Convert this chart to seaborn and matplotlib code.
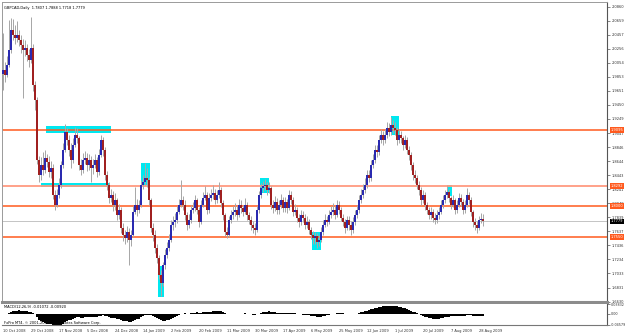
import numpy as np
import pandas as pd
import matplotlib
matplotlib.use("Agg")
import matplotlib.pyplot as plt
import seaborn as sns
from matplotlib.patches import Rectangle

# ---------------- data (GBPCAD daily) ----------------
first_open = 1.9900
closes = [
    1.9956, 1.9884, 2.0027, 2.0243, 2.0530, 2.0458, 2.0415, 2.0458, 2.0386, 2.0314,
    2.0243, 2.0271, 2.0171, 2.0099, 2.0271, 1.9740, 1.9525, 1.8664, 1.8449, 1.8593,
    1.8521, 1.8693, 1.8636, 1.8492, 1.8550, 1.8162, 1.8019, 1.8162, 1.8306, 1.8593,
    1.8808, 1.9066, 1.8951, 1.8808, 1.8664, 1.8880, 1.9023, 1.8980, 1.8593, 1.8521,
    1.8664, 1.8693, 1.8593, 1.8664, 1.8550, 1.8593, 1.8664, 1.8492, 1.8736, 1.8951,
    1.8808, 1.8449, 1.8306, 1.8119, 1.8162, 1.8019, 1.8091, 1.7875, 1.7947, 1.7689,
    1.7588, 1.7545, 1.7631, 1.7517, 1.7588, 1.7918, 1.8019, 1.7947, 1.8019, 1.8306,
    1.8349, 1.8406, 1.8378, 1.8091, 1.7689, 1.7588, 1.7402, 1.7258, 1.7015, 1.6900,
    1.7158, 1.7302, 1.7402, 1.7517, 1.7732, 1.7775, 1.7804, 1.7918, 1.8019, 1.8091,
    1.8019, 1.7875, 1.7732, 1.7804, 1.7947, 1.7976, 1.8091, 1.7947, 1.7775, 1.8019,
    1.8119, 1.8162, 1.7947, 1.8119, 1.8162, 1.8191, 1.8091, 1.8162, 1.8234, 1.8048,
    1.7875, 1.7631, 1.7588, 1.7804, 1.7875, 1.7918, 1.7947, 1.7875, 1.8019, 1.7976,
    1.7918, 1.8019, 1.7875, 1.7804, 1.7732, 1.7689, 1.7660, 1.7947, 1.8162, 1.8263,
    1.8291, 1.8306, 1.8234, 1.8263, 1.8019, 1.7976, 1.8062, 1.7947, 1.8019, 1.8091,
    1.7976, 1.8062, 1.7976, 1.8162, 1.8091, 1.7918, 1.7947, 1.7832, 1.7775, 1.7875,
    1.7832, 1.7732, 1.7775, 1.7660, 1.7588, 1.7545, 1.7574, 1.7488, 1.7517, 1.7631,
    1.7732, 1.7804, 1.7775, 1.7875, 1.7918, 1.7947, 1.7875, 1.8019, 1.7947, 1.7832,
    1.7775, 1.7689, 1.7804, 1.7732, 1.7660, 1.7775, 1.7875, 1.7947, 1.8091, 1.8162,
    1.8234, 1.8306, 1.8449, 1.8406, 1.8593, 1.8664, 1.8808, 1.8779, 1.8951, 1.9023,
    1.8951, 1.9023, 1.9124, 1.9066, 1.9167, 1.9124, 1.9095, 1.8951, 1.9023, 1.8980,
    1.8880, 1.8951, 1.8808, 1.8736, 1.8593, 1.8449, 1.8406, 1.8306, 1.8234, 1.8091,
    1.8162, 1.8019, 1.7947, 1.7875, 1.7918, 1.7832, 1.7804, 1.7875, 1.7918, 1.8019,
    1.8091, 1.8162, 1.8205, 1.8119, 1.8019, 1.8091, 1.7947, 1.8019, 1.8119, 1.8062,
    1.7947, 1.8019, 1.8162, 1.8091, 1.7918, 1.7775, 1.7732, 1.7689, 1.7804, 1.7807,
    1.7779,
]
highs = [
    2.0480, 2.0060, 2.0150, 2.0670, 2.0700, 2.0690, 2.0600, 2.0650, 2.0520, 2.0450,
    2.0400, 2.0380, 2.0330, 2.0250, 2.0716, 2.0320, 1.9800, 1.9560, 1.8720, 1.8700,
    1.8780, 1.8800, 1.8750, 1.8720, 1.8650, 1.8600, 1.8230, 1.8250, 1.8400, 1.8650,
    1.8900, 1.9170, 1.9120, 1.9020, 1.8900, 1.8980, 1.9140, 1.9120, 1.9010, 1.8680,
    1.8760, 1.8790, 1.8760, 1.8740, 1.8720, 1.8680, 1.8750, 1.8700, 1.8820, 1.9020,
    1.8990, 1.8850, 1.8500, 1.8350, 1.8250, 1.8220, 1.8180, 1.8120, 1.8030, 1.7980,
    1.7750, 1.7650, 1.7720, 1.7680, 1.7650, 1.8000, 1.8280, 1.8100, 1.8090, 1.8380,
    1.8450, 1.8620, 1.8550, 1.8420, 1.8120, 1.7750, 1.7650, 1.7450, 1.7300, 1.7080,
    1.7200, 1.7380, 1.7480, 1.7600, 1.7800, 1.7860, 1.7900, 1.8000, 1.8100, 1.8378,
    1.8150, 1.8080, 1.7920, 1.7880, 1.8020, 1.8060, 1.8160, 1.8120, 1.7980, 1.8080,
    1.8200, 1.8290, 1.8200, 1.8180, 1.8250, 1.8300, 1.8240, 1.8230, 1.8350, 1.8280,
    1.8090, 1.7900, 1.7700, 1.7860, 1.7950, 1.8000, 1.8050, 1.8000, 1.8100, 1.8080,
    1.8020, 1.8110, 1.8060, 1.7920, 1.7850, 1.7790, 1.7750, 1.8000, 1.8220, 1.8330,
    1.8360, 1.8392, 1.8350, 1.8340, 1.8290, 1.8080, 1.8140, 1.8110, 1.8090, 1.8170,
    1.8130, 1.8130, 1.8100, 1.8230, 1.8210, 1.8130, 1.8030, 1.7990, 1.7890, 1.7940,
    1.7930, 1.7880, 1.7850, 1.7820, 1.7700, 1.7640, 1.7630, 1.7610, 1.7590, 1.7700,
    1.7800, 1.7880, 1.7860, 1.7940, 1.8000, 1.8050, 1.8000, 1.8090, 1.8070, 1.7990,
    1.7880, 1.7820, 1.7860, 1.7850, 1.7780, 1.7840, 1.7940, 1.8020, 1.8160, 1.8240,
    1.8310, 1.8400, 1.8520, 1.8510, 1.8660, 1.8750, 1.8880, 1.8870, 1.9020, 1.9100,
    1.9080, 1.9110, 1.9200, 1.9190, 1.9281, 1.9240, 1.9200, 1.9140, 1.9100, 1.9080,
    1.9010, 1.9020, 1.8990, 1.8860, 1.8780, 1.8630, 1.8520, 1.8450, 1.8360, 1.8270,
    1.8230, 1.8200, 1.8060, 1.7990, 1.7990, 1.7960, 1.7900, 1.7940, 1.7990, 1.8080,
    1.8160, 1.8230, 1.8290, 1.8250, 1.8150, 1.8160, 1.8120, 1.8090, 1.8190, 1.8170,
    1.8100, 1.8080, 1.8260, 1.8200, 1.8130, 1.7950, 1.7830, 1.7780, 1.7860, 1.7900,
    1.7888,
]
lows = [
    1.9670, 1.9780, 1.9850, 1.9990, 2.0200, 2.0380, 2.0330, 2.0350, 2.0300, 2.0200,
    1.9550, 2.0150, 2.0080, 2.0000, 2.0050, 1.9650, 1.9380, 1.8600, 1.8350, 1.8380,
    1.8450, 1.8480, 1.8560, 1.8420, 1.8400, 1.8100, 1.7950, 1.7980, 1.8120, 1.8260,
    1.8550, 1.8780, 1.8880, 1.8720, 1.8550, 1.8620, 1.8850, 1.8900, 1.8520, 1.8440,
    1.8470, 1.8600, 1.8500, 1.8520, 1.8350, 1.8460, 1.8540, 1.8420, 1.8450, 1.8700,
    1.8720, 1.8380, 1.8230, 1.8050, 1.8060, 1.7930, 1.7950, 1.7800, 1.7820, 1.7620,
    1.7500, 1.7460, 1.7480, 1.7160, 1.7420, 1.7550, 1.7880, 1.7850, 1.7900, 1.7980,
    1.8250, 1.8300, 1.8280, 1.8020, 1.7630, 1.7500, 1.7330, 1.7180, 1.6950, 1.6713,
    1.6850, 1.7100, 1.7250, 1.7350, 1.7480, 1.7650, 1.7700, 1.7750, 1.7880, 1.7980,
    1.7950, 1.7800, 1.7650, 1.7680, 1.7760, 1.7900, 1.7930, 1.7880, 1.7700, 1.7740,
    1.7980, 1.8080, 1.7880, 1.7900, 1.8070, 1.8100, 1.8030, 1.8040, 1.8120, 1.7990,
    1.7800, 1.7570, 1.7545, 1.7560, 1.7760, 1.7820, 1.7850, 1.7800, 1.7840, 1.7900,
    1.7850, 1.7880, 1.7800, 1.7740, 1.7660, 1.7620, 1.7590, 1.7630, 1.7900, 1.8120,
    1.8200, 1.8230, 1.8160, 1.8180, 1.7960, 1.7900, 1.7930, 1.7880, 1.7890, 1.7970,
    1.7910, 1.7920, 1.7900, 1.7940, 1.8030, 1.7850, 1.7870, 1.7770, 1.7700, 1.7730,
    1.7770, 1.7670, 1.7680, 1.7600, 1.7520, 1.7450, 1.7460, 1.7402, 1.7430, 1.7480,
    1.7590, 1.7700, 1.7710, 1.7740, 1.7830, 1.7870, 1.7810, 1.7840, 1.7880, 1.7780,
    1.7710, 1.7620, 1.7650, 1.7660, 1.7590, 1.7620, 1.7730, 1.7830, 1.7900, 1.8040,
    1.8110, 1.8180, 1.8260, 1.8340, 1.8360, 1.8540, 1.8620, 1.8710, 1.8730, 1.8900,
    1.8880, 1.8900, 1.8980, 1.9000, 1.9020, 1.9050, 1.9020, 1.8880, 1.8900, 1.8910,
    1.8810, 1.8830, 1.8740, 1.8660, 1.8520, 1.8380, 1.8330, 1.8240, 1.8160, 1.8020,
    1.8040, 1.7950, 1.7880, 1.7810, 1.7820, 1.7770, 1.7740, 1.7760, 1.7820, 1.7880,
    1.7970, 1.8040, 1.8120, 1.8060, 1.7960, 1.7980, 1.7890, 1.7900, 1.7980, 1.8000,
    1.7890, 1.7900, 1.7980, 1.8030, 1.7860, 1.7700, 1.7660, 1.7620, 1.7650, 1.7760,
    1.7718,
]
date_labels = ["10 Oct 2008", "29 Oct 2008", "17 Nov 2008", "5 Dec 2008", "24 Dec 2008",
               "14 Jan 2009", "2 Feb 2009", "20 Feb 2009", "11 Mar 2009", "30 Mar 2009",
               "17 Apr 2009", "6 May 2009", "25 May 2009", "12 Jun 2009", "1 Jul 2009",
               "20 Jul 2009", "7 Aug 2009", "28 Aug 2009"]
bars_per_label = 14
price_tick_labels = ["2.0860", "2.0659", "2.0457", "2.0256", "2.0054", "1.9853", "1.9651",
                     "1.9450", "1.9249", "1.9047", "1.8846", "1.8644", "1.8443", "1.8241",
                     "1.8040", "1.7839", "1.7637", "1.7436", "1.7234", "1.7033", "1.6831",
                     "1.6630"]
levels = [1.9095, 1.8292, 1.8000, 1.7550]
level_labels = ["1.9095", "1.8292", "1.8000", "1.7550"]
last_price = 1.7779
# highlighted zones: (first bar, last bar, low price, high price)
zone_bar0 = [21.5, 19.0, 69.0, 77.5, 128.5, 154.5, 194.0, 222.0]
zone_bar1 = [54.0, 53.0, 73.5, 80.5, 133.0, 159.0, 198.0, 224.5]
zone_lo = [1.9052, 1.8277, 1.8306, 1.6699, 1.8191, 1.7374, 1.9023, 1.8148]
zone_hi = [1.9152, 1.8335, 1.8621, 1.7144, 1.8406, 1.7631, 1.9296, 1.8306]
header = "GBPCAD,Daily  1.7807 1.7888 1.7718 1.7779"
macd_title = "MACD(12,26,9) -0.01072 -0.00920"
footer = "FxPro MT4, \u00a9 2001-2008 MetaQuotes Software Corp."
macd_tick_labels = ["0.03832", "0.00", "-0.04579"]

# ---------------- frame ----------------
df = pd.DataFrame({"close": closes, "high": highs, "low": lows})
df["open"] = [first_open] + closes[:-1]
df["bar"] = np.arange(len(df))
df["top"] = df[["open", "close"]].max(axis=1)
df["bot"] = df[["open", "close"]].min(axis=1)
df["high"] = np.maximum(df["high"], df["top"])
df["low"] = np.minimum(df["low"], df["bot"])
ema12 = df["close"].ewm(span=12, adjust=False).mean()
ema26 = df["close"].ewm(span=26, adjust=False).mean()
df["macd"] = ema12 - ema26

sns.set_theme(style="white")
plt.rcParams["font.family"] = ["DejaVu Sans"]

W, H = 625, 333
fig = plt.figure(figsize=(W / 100, H / 100), dpi=100)
fig.patch.set_facecolor("white")


def rect(x0, y0, x1, y1):
    return [x0 / W, 1 - y1 / H, (x1 - x0) / W, (y1 - y0) / H]


ax = fig.add_axes(rect(2, 2, 607, 302))
axm = fig.add_axes(rect(2, 304, 607, 325))

xlim = (-0.5, 302.0)
FS = 2.6
BULL, BEAR, WICK = "#2a2ab0", "#a02020", "#a8a8a8"
ORANGE = "#ff5a1e"
CYAN = "#00e8f0"

# zones
for b0, b1, lo, hi in zip(zone_bar0, zone_bar1, zone_lo, zone_hi):
    ax.add_patch(Rectangle((b0, lo), b1 - b0, hi - lo, facecolor=CYAN, edgecolor="none", zorder=1))

# horizontal levels
for i, lv in enumerate(levels):
    col = "#ff9a80" if i == 1 else ORANGE
    ax.axhline(lv, color=col, lw=1.3 if i == 1 else 1.1, zorder=2)
ax.axhline(last_price, color="#c4c4c4", lw=0.7, zorder=2)

# candles
ax.vlines(df["bar"], df["low"], df["high"], color=WICK, lw=0.72, zorder=3)
colors = np.where(df["close"] >= df["open"], BULL, BEAR)
heights = np.maximum(df["top"] - df["bot"], 0.0008)
ax.bar(df["bar"], heights, bottom=df["bot"], width=0.7, color=colors, linewidth=0,
       antialiased=False, zorder=4)

ax.set_xlim(*xlim)
ax.set_ylim(1.6623, 2.0927)
ax.set_xticks([])
ticks = [float(s) for s in price_tick_labels]
ax.yaxis.tick_right()
ax.set_yticks(ticks)
ax.set_yticklabels(price_tick_labels, fontsize=FS, color="#333333")
ax.tick_params(axis="y", length=2, width=0.5, pad=1.5, colors="#555555", labelcolor="#333333", direction="out")
for s in ["left", "top"]:
    ax.spines[s].set_color("#9a9a9a")
    ax.spines[s].set_linewidth(0.7)
ax.spines["right"].set_color("#555555")
ax.spines["right"].set_linewidth(0.8)
ax.spines["bottom"].set_color("#8c8c8c")
ax.spines["bottom"].set_linewidth(2.2)
ax.grid(False)

for lv, lab in zip(levels, level_labels):
    ax.annotate(lab, xy=(1.0, lv), xycoords=("axes fraction", "data"), xytext=(2.5, 0),
                textcoords="offset points", ha="left", va="center", fontsize=FS, color="white",
                bbox=dict(boxstyle="square,pad=0.25", fc=ORANGE, ec="none"), annotation_clip=False, zorder=10)
ax.annotate(f"{last_price:.4f}", xy=(1.0, last_price), xycoords=("axes fraction", "data"), xytext=(2.5, 0),
            textcoords="offset points", ha="left", va="center", fontsize=FS, color="white",
            bbox=dict(boxstyle="square,pad=0.25", fc="black", ec="none"), annotation_clip=False, zorder=10)
ax.text(0.003, 0.985, header, transform=ax.transAxes, fontsize=FS, color="black", ha="left", va="top")

# MACD panel
sns.barplot(x=df["bar"], y=df["macd"], native_scale=True, color="black", width=0.6,
            linewidth=0, saturation=1, antialiased=False, ax=axm)
axm.set_xlim(*xlim)
axm.set_ylim(-0.0458, 0.0383)
axm.set_ylabel("")
axm.set_xlabel("")
axm.yaxis.tick_right()
axm.set_yticks([0.0383, 0.0, -0.0458])
axm.set_yticklabels(macd_tick_labels, fontsize=2.4)
axm.tick_params(axis="y", length=2, width=0.5, pad=1.0, colors="#555555", labelcolor="#333333", direction="out")
label_pos = np.arange(len(date_labels)) * bars_per_label
axm.set_xticks(label_pos)
axm.set_xticklabels(date_labels, fontsize=FS, ha="left", color="#333333")
axm.tick_params(axis="x", length=2, width=0.5, pad=1.0, colors="#555555", labelcolor="#333333", direction="out")
for s in ["left", "top"]:
    axm.spines[s].set_visible(False)
axm.spines["right"].set_color("#555555")
axm.spines["right"].set_linewidth(0.8)
axm.spines["bottom"].set_color("#777777")
axm.spines["bottom"].set_linewidth(0.8)
axm.grid(False)
axm.text(0.003, 0.95, macd_title, transform=axm.transAxes, fontsize=FS, color="black", ha="left", va="top")
axm.text(0.003, 0.02, footer, transform=axm.transAxes, fontsize=FS, color="black", ha="left", va="bottom")

fig.savefig("out.png", dpi=100)
